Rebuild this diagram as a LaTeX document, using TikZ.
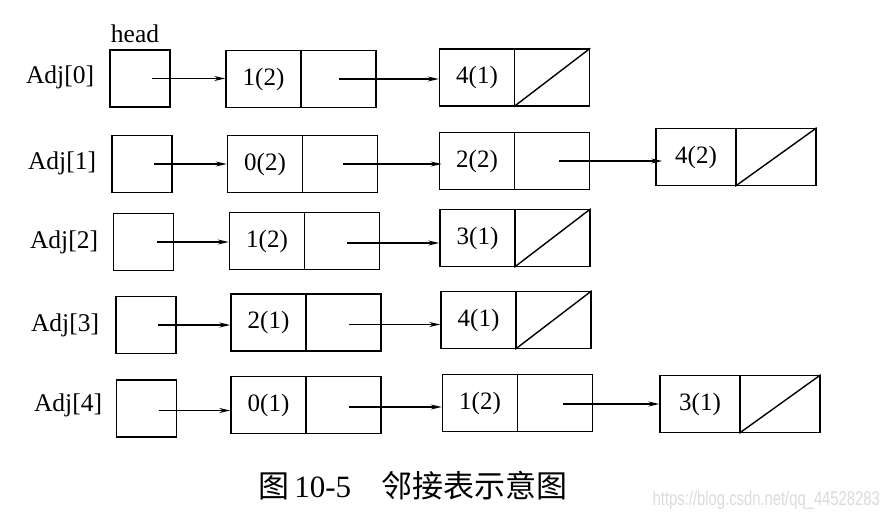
\documentclass[tikz,border=0pt]{standalone}
\usepackage{fontspec}
\setmainfont{Liberation Serif}
\newfontfamily\cjk{Noto Sans CJK SC}
\newfontfamily\wmfont{Liberation Sans}
\usetikzlibrary{arrows.meta}
\begin{document}
\begin{tikzpicture}[x=1pt,y=-1pt,
  txt/.style={font=\fontsize{25.5}{28}\selectfont, inner sep=0},
  cell/.style={draw, line width=1.5pt, minimum width=75pt, minimum height=57pt, inner sep=0, font=\fontsize{25}{28}\selectfont},
  wcell/.style={cell, minimum width=80pt},
  hbox/.style={cell, minimum width=60pt},
  arr/.style={line width=1.4pt, -{Stealth[length=11pt,width=5pt]}},
  nul/.style={line width=1.4pt}]
\useasboundingbox (0,0) rectangle (890,518);

% labels
\node[txt] (head) at (135,34) {head};
\node[txt] (l0) at (60,77) {Adj[0]};
\node[txt] (l1) at (62,163) {Adj[1]};
\node[txt] (l2) at (64,242) {Adj[2]};
\node[txt] (l3) at (65,325) {Adj[3]};
\node[txt] (l4) at (68,405) {Adj[4]};

% row 0
\node[hbox] (h0) at (140,78.5) {};
\node[cell] (a0) at (263.5,79) {1(2)};
\node[cell] (a0n) at (338.5,79) {};
\node[cell] (b0) at (477,77.5) {4(1)};
\node[cell] (b0n) at (552,77.5) {};
\draw[nul] (b0n.south west) -- (b0n.north east);
\draw[arr] ([xshift=12pt]h0.center) -- (h0.center -| a0.west);
\draw[arr] (a0n.center) -- (a0n.center -| b0.west);

% row 1
\node[hbox] (h1) at (142,164) {};
\node[cell] (a1) at (265,164) {0(2)};
\node[cell] (a1n) at (340,164) {};
\node[cell] (b1) at (477,161) {2(2)};
\node[cell] (b1n) at (552,161) {};
\node[wcell] (c1) at (696,157) {4(2)};
\node[wcell] (c1n) at (776,157) {};
\draw[nul] (c1n.south west) -- (c1n.north east);
\draw[arr] ([xshift=12pt]h1.center) -- (h1.center -| a1.west);
\draw[arr] ([xshift=3pt]a1n.center) -- ([xshift=3pt]a1n.center -| b1.west);
\draw[arr] ([xshift=7pt]b1n.center) -- ([xshift=7pt]b1n.center -| c1.west);

% row 2
\node[hbox] (h2) at (143.5,242) {};
\node[cell] (a2) at (267,241) {1(2)};
\node[cell] (a2n) at (342,241) {};
\node[cell] (b2) at (477.5,238) {3(1)};
\node[cell] (b2n) at (552.5,238) {};
\draw[nul] (b2n.south west) -- (b2n.north east);
\draw[arr] ([xshift=13pt]h2.center) -- (h2.center -| a2.west);
\draw[arr] ([xshift=5pt,yshift=-2pt]a2n.center) -- ([yshift=-2pt]a2n.center -| b2.west);

% row 3
\node[hbox] (h3) at (146,325) {};
\node[cell] (a3) at (268.5,322.5) {2(1)};
\node[cell] (a3n) at (343.5,322.5) {};
\node[cell] (b3) at (478.5,320) {4(1)};
\node[cell] (b3n) at (553.5,320) {};
\draw[nul] (b3n.south west) -- (b3n.north east);
\draw[arr] ([xshift=12pt]h3.center) -- (h3.center -| a3.west);
\draw[arr] ([xshift=5pt,yshift=-2pt]a3n.center) -- ([yshift=-2pt]a3n.center -| b3.west);

% row 4
\node[hbox] (h4) at (146.5,408.5) {};
\node[cell] (a4) at (268.5,405) {0(1)};
\node[cell] (a4n) at (343.5,405) {};
\node[cell] (b4) at (480,403) {1(2)};
\node[cell] (b4n) at (555,403) {};
\node[wcell] (c4) at (700,404) {3(1)};
\node[wcell] (c4n) at (780,404) {};
\draw[nul] (c4n.south west) -- (c4n.north east);
\draw[arr] ([xshift=12pt,yshift=-2pt]h4.center) -- ([yshift=-2pt]h4.center -| a4.west);
\draw[arr] ([xshift=5pt,yshift=-2pt]a4n.center) -- ([yshift=-2pt]a4n.center -| b4.west);
\draw[arr] ([xshift=8pt,yshift=-1pt]b4n.center) -- ([yshift=-1pt]b4n.center -| c4.west);

% caption
\node[inner sep=0, anchor=west, font=\fontsize{31}{34}\selectfont] (cap) at (258,486) {{\cjk 图}\,10-5\hspace{30pt}{\cjk 邻接表示意图}};
\node[inner sep=0, anchor=east, text=black!14, font=\wmfont\fontsize{20}{22}\selectfont, xscale=0.74] (wm) at (880,500) {https://blog.csdn.net/qq\_44528283};
\end{tikzpicture}
\end{document}
